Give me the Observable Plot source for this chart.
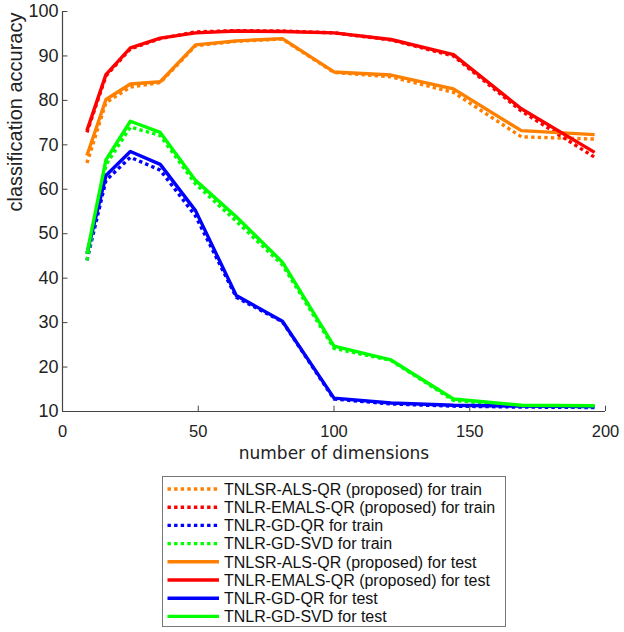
<!DOCTYPE html>
<html>
<head>
<meta charset="utf-8">
<script src="https://cdn.jsdelivr.net/npm/d3@7"></script>
<script src="https://cdn.jsdelivr.net/npm/@observablehq/plot@0.6"></script>
<style>
  body { margin: 0; background: #fff; font-family: "Liberation Sans", Arial, sans-serif; }
  #chart { width: 624px; }
  #legend { position: absolute; left: 162px; top: 476px; width: 342px; height: 149px; border: 1px solid #777; background: #fff; }
</style>
</head>
<body>
<div id="chart"></div>
<div id="legend"></div>
<script>
const dims = [9, 16, 25, 36, 49, 64, 81, 100, 121, 144, 169, 196];

const alsTrain   = [65.9, 79.5, 83.0, 84.0, 92.3, 93.3, 93.8, 86.3, 85.3, 81.8, 71.8, 71.3];
const emalsTrain = [72.8, 85.5, 91.6, 93.9, 95.4, 95.7, 95.6, 95.2, 93.6, 90.0, 77.6, 67.2];
const gdqrTrain  = [44.0, 62.0, 67.2, 64.3, 54.0, 35.7, 30.2, 12.8, 11.7, 11.2, 11.0, 10.9];
const gdsvdTrain = [44.0, 65.5, 74.0, 72.1, 61.2, 52.8, 43.0, 24.2, 21.5, 12.5, 11.2, 11.1];

const alsTest    = [67.6, 80.2, 83.7, 84.2, 92.5, 93.4, 93.9, 86.4, 85.7, 82.6, 73.2, 72.3];
const emalsTest  = [73.2, 85.8, 91.8, 94.0, 95.2, 95.6, 95.5, 95.2, 93.7, 90.3, 78.1, 68.3];
const gdqrTest   = [45.5, 63.1, 68.5, 65.6, 55.2, 36.1, 30.3, 13.0, 11.9, 11.4, 11.2, 11.1];
const gdsvdTest  = [45.5, 66.6, 75.3, 72.8, 62.0, 53.8, 43.6, 24.7, 21.6, 12.8, 11.4, 11.3];

const seriesNames = [
  "TNLSR-ALS-QR (proposed) for train",
  "TNLR-EMALS-QR (proposed) for train",
  "TNLR-GD-QR for train",
  "TNLR-GD-SVD for train",
  "TNLSR-ALS-QR (proposed) for test",
  "TNLR-EMALS-QR (proposed) for test",
  "TNLR-GD-QR for test",
  "TNLR-GD-SVD for test"
];
const seriesValues = [alsTrain, emalsTrain, gdqrTrain, gdsvdTrain, alsTest, emalsTest, gdqrTest, gdsvdTest];
const seriesColors = ["#ff8000", "#ff0000", "#0000ff", "#00ff00", "#ff8000", "#ff0000", "#0000ff", "#00ff00"];
const seriesDotted = [true, true, true, true, false, false, false, false];

const xTicks = [0, 50, 100, 150, 200];
const yTicks = [10, 20, 30, 40, 50, 60, 70, 80, 90, 100];
const xLabel = "number of dimensions";
const yLabel = "classification accuracy";

const lineMarks = seriesNames.map((name, i) => {
  const data = dims.map((d, j) => ({x: d, y: seriesValues[i][j]}));
  return Plot.line(data, {
    x: "x", y: "y",
    stroke: seriesColors[i],
    strokeWidth: 3.4,
    strokeDasharray: seriesDotted[i] ? "3.4,3.2" : null,
    strokeLinejoin: "round",
    strokeLinecap: "butt"
  });
});

const axisColor = "#444";
const plot = Plot.plot({
  width: 624,
  height: 465,
  marginLeft: 62,
  marginRight: 19,
  marginTop: 11,
  marginBottom: 54,
  style: {fontFamily: '"Liberation Sans", Arial, sans-serif', fontSize: "17px", color: "#222", background: "#fff"},
  x: {domain: [0, 200]},
  y: {domain: [10, 100]},
  marks: [
    ...lineMarks,
    Plot.ruleX([0], {stroke: axisColor, strokeWidth: 1.2}),
    Plot.ruleY([10], {stroke: axisColor, strokeWidth: 1.2}),
    Plot.ruleX(xTicks, {x: d => d, y1: 10, y2: 11.2, stroke: axisColor, strokeWidth: 1}),
    Plot.ruleY(yTicks, {y: d => d, x1: 0, x2: 2, stroke: axisColor, strokeWidth: 1}),
    Plot.axisX({ticks: xTicks, tickSize: 0, tickPadding: 14, label: null, fontSize: 16.5, tickFormat: d3.format("d")}),
    Plot.axisY({ticks: yTicks, tickSize: 0, tickPadding: 4, label: null, fontSize: 18, tickFormat: d3.format("d")}),
    Plot.text([xLabel], {frameAnchor: "bottom", dy: 47, fontSize: 17, fontFamily: '"DejaVu Sans", sans-serif', fill: "#222"}),
    Plot.text([yLabel], {frameAnchor: "left", dx: -47, rotate: -90, fontSize: 20, fill: "#222"})
  ]
});
document.getElementById("chart").appendChild(plot);

// Legend
const lg = d3.select("#legend").append("svg").attr("width", 342).attr("height", 149)
  .style("font-family", '"Liberation Sans", Arial, sans-serif');
seriesNames.forEach((name, i) => {
  const cy = 12 + i * 18.2;
  lg.append("line").attr("x1", 4.5).attr("x2", 56).attr("y1", cy).attr("y2", cy)
    .attr("stroke", seriesColors[i]).attr("stroke-width", 3.4)
    .attr("stroke-dasharray", seriesDotted[i] ? "3.4,3.2" : null);
  lg.append("text").attr("x", 61).attr("y", cy).attr("dy", "0.36em")
    .attr("font-size", 16).attr("fill", "#111").text(name);
});
</script>
</body>
</html>
